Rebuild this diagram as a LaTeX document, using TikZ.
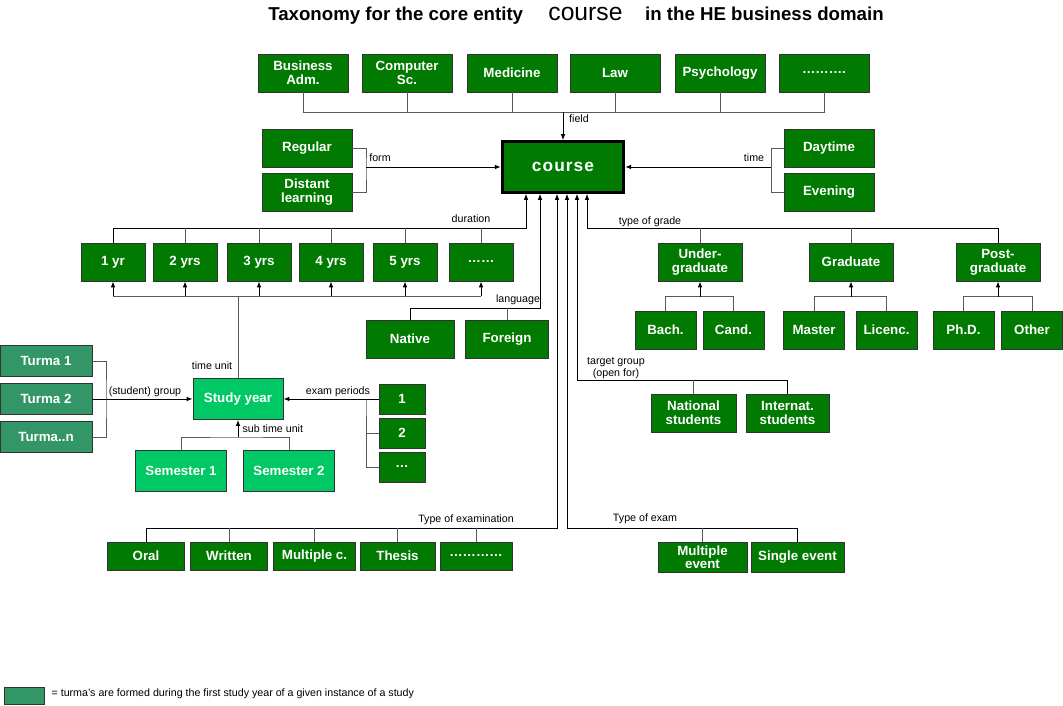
\documentclass[tikz,border=0pt]{standalone}
\usepackage{fontspec}
\setmainfont{Liberation Sans}
\usetikzlibrary{arrows.meta,calc}
\definecolor{dkgreen}{RGB}{0,122,0}
\definecolor{tgreen}{RGB}{51,150,102}
\definecolor{lgreen}{RGB}{0,200,100}
\tikzset{
  box/.style={draw=black!80, fill=dkgreen, text=white, align=center,
    font=\bfseries\fontsize{10}{10.75}\selectfont, inner sep=1pt,
    minimum height=28.5pt, line width=0.6pt},
  lbl/.style={font=\fontsize{8}{9}\selectfont, inner sep=1pt},
  ln/.style={draw=black!65, line width=0.7pt},
  arr/.style={draw=black, line width=0.7pt, -{Latex[length=4.5pt,width=3.5pt]}}
}
\begin{document}
\begin{tikzpicture}[x=0.75pt,y=-0.75pt]
  \useasboundingbox (0,0) rectangle (1063,706);
  % title
  \node (title) at (576,16) {{\bfseries\fontsize{14}{16}\selectfont Taxonomy for the core entity}\hspace{19pt}{\fontsize{18.5}{20}\selectfont course}\hspace{17pt}{\bfseries\fontsize{14}{16}\selectfont in the HE business domain}};
  % core entity
  \node[box, draw=black, line width=2.25pt, minimum width=91pt, minimum height=38pt,
    font=\bfseries\fontsize{13}{14}\selectfont\addfontfeatures{LetterSpace=6}] (course) at (563,167) {course};
  % field
  \foreach \x/\nm/\texn in {303/f1/{Business\\Adm.},407/f2/{Computer\\Sc.},
    512/f3/Medicine,615/f4/Law,720/f5/Psychology,824/f6/……….}
    \node[box, minimum width=67.5pt] (\nm) at (\x,73) {\texn};
  \coordinate (fld) at (563,112);
  \draw[ln] (f1.south) -- (f1.south |- fld) -- (f6.south |- fld) -- (f6.south);
  \foreach \i in {2,...,5} \draw[ln] (f\i.south) -- (f\i.south |- fld);
  \draw[arr] (fld) -- (course.north);
  \node[lbl] (lfld) at (579,119) {field};
  % form
  \node[box, minimum width=67.5pt] (reg) at (307,148) {Regular};
  \node[box, minimum width=67.5pt] (dist) at (307,192) {Distant\\learning};
  \coordinate (frm) at (366,167);
  \draw[ln] (reg.east) -| (frm) |- (dist.east);
  \draw[arr] (frm) -- (course.west);
  \node[lbl] (lfrm) at (380,158) {form};
  % time
  \node[box, minimum width=67.5pt] (day) at (829,148) {Daytime};
  \node[box, minimum width=67.5pt] (eve) at (829,192) {Evening};
  \coordinate (tim) at (771,167);
  \draw[ln] (day.west) -| (tim) |- (eve.west);
  \draw[arr] (tim) -- (course.east);
  \node[lbl] (ltim) at (754,158) {time};
  % duration
  \foreach \x/\nm/\texn in {113/y1/1 yr,185/y2/2 yrs,259/y3/3 yrs,
    331/y4/4 yrs,405/y5/5 yrs,481/y6/……}
    \node[box, minimum width=48pt] (\nm) at (\x,262) {\texn};
  \coordinate (dur) at (526,228);
  \draw[arr] (y1.north) |- (dur) -- (dur |- course.south);
  \foreach \i in {2,...,6} \draw[ln] (y\i.north) -- (y\i.north |- dur);
  \node[lbl] (ldur) at (471,219) {duration};
  % study year
  \node[box, fill=lgreen, minimum width=67.5pt, minimum height=30.75pt] (study) at (238,399) {Study year};
  \coordinate (tu) at (238,296);
  \draw[ln] (y1.south |- tu) -- (y6.south |- tu);
  \foreach \i in {1,...,6} \draw[arr] (y\i.south |- tu) -- (y\i.south);
  \draw[ln] (study.north) -- (tu);
  \node[lbl] (ltu) at (212,366) {time unit};
  % language
  \node[box, minimum width=66pt] (nat) at (410,339) {Native};
  \node[box, minimum width=62pt] (frgn) at (507,339) {Foreign};
  \coordinate (lng) at (540,308);
  \draw[arr] (nat.north) |- (lng) -- (lng |- course.south);
  \draw[ln] (frgn.north) -- (frgn.north |- lng);
  \node[lbl] (llng) at (518,300) {language};
  % student groups
  \foreach \y/\nm/\texn in {361/t1/Turma 1,399/t2/Turma 2,437/t3/Turma..n}
    \node[box, fill=tgreen, minimum width=69pt, minimum height=23.25pt] (\nm) at (46,\y) {\texn};
  \coordinate (grp) at (106,399);
  \draw[ln] (t1.east) -| (grp) |- (t3.east);
  \draw[arr] (t2.east) -- (study.west);
  \node[lbl] (lgrp) at (145,392) {(student) group};
  % exam periods
  \foreach \y/\nm/\texn in {399/p1/1,433/p2/2,467/p3/…}
    \node[box, minimum width=34.5pt, minimum height=22.5pt] (\nm) at (402,\y) {\texn};
  \coordinate (exp) at (366,399);
  \draw[ln] (p2.west) -| (exp) |- (p3.west);
  \draw[arr] (p1.west) -- (study.east);
  \node[lbl] (lexp) at (338,392) {exam periods};
  % semesters
  \node[box, fill=lgreen, minimum width=68.25pt, minimum height=30.75pt] (s1) at (181,471) {Semester 1};
  \node[box, fill=lgreen, minimum width=68.25pt, minimum height=30.75pt] (s2) at (289,471) {Semester 2};
  \coordinate (stu) at (238,437);
  \draw[ln] (s1.north) |- (stu) -| (s2.north);
  \draw[arr] (stu) -- (study.south);
  \node[lbl, anchor=west] (lstu) at (241,429) {sub time unit};
  % type of grade
  \foreach \x/\nm/\texn in {700/ug/{Under-\\graduate},851/gr/Graduate,998/pg/{Post-\\graduate}}
    \node[box, minimum width=63pt] (\nm) at (\x,262) {\texn};
  \coordinate (grd) at (587,228);
  \draw[arr] (pg.north) |- (grd) -- (grd |- course.south);
  \draw[ln] (ug.north) -- (ug.north |- grd);
  \draw[ln] (gr.north) -- (gr.north |- grd);
  \node[lbl] (lgrd) at (650,222) {type of grade};
  \foreach \x/\nm/\texn in {665.5/ba/Bach.,733.5/ca/Cand.,814/ma/Master,
    886.5/li/Licenc.,963.5/ph/Ph.D.,1032/ot/Other}
    \node[box, minimum width=45.75pt] (\nm) at (\x,330) {\texn};
  \foreach \a/\b/\p in {ba/ca/ug,ma/li/gr,ph/ot/pg}{
    \draw[ln] (\a.north) -- ([yshift=10.5pt]\a.north) -| (\b.north);
    \draw[arr] ([yshift=-12pt]\p.south) -- (\p.south);
  }
  % target group
  \node[box, minimum width=63.75pt] (nst) at (693.5,413) {National\\students};
  \node[box, minimum width=62.25pt] (ist) at (787.5,413) {Internat.\\students};
  \coordinate (tgt) at (577,380);
  \draw[arr] (ist.north) |- (tgt) -- (tgt |- course.south);
  \draw[ln] (nst.north) -- (nst.north |- tgt);
  \node[lbl, align=center, font=\fontsize{8}{9.5}\selectfont] (ltgt) at (616,368) {target group\\(open for)};
  % type of examination
  \foreach \x/\w/\nm/\texn in {146/57.75pt/e1/Oral,229/57.75pt/e2/Written,
    314.5/61.5pt/e3/Multiple c.,397.5/56.25pt/e4/Thesis,476/54pt/e5/…………}
    \node[box, minimum width=\w, minimum height=21pt] (\nm) at (\x,556) {\texn};
  \coordinate (exm) at (557,528);
  \draw[arr] (e1.north) |- (exm) -- (exm |- course.south);
  \foreach \i in {2,...,5} \draw[ln] (e\i.north) -- (e\i.north |- exm);
  \node[lbl] (lexm) at (466,520) {Type of examination};
  % type of exam
  \node[box, minimum width=66.75pt, minimum height=22.5pt, font=\bfseries\fontsize{10}{10}\selectfont] (me) at (702.5,557) {Multiple\\event};
  \node[box, minimum width=69.75pt, minimum height=22.5pt] (se) at (797.5,557) {Single event};
  \coordinate (exa) at (567,528);
  \draw[arr] (se.north) |- (exa) -- (exa |- course.south);
  \draw[ln] (me.north) -- (me.north |- exa);
  \node[lbl] (lexa) at (645,519) {Type of exam};
  % legend
  \node[box, fill=tgreen, minimum width=30pt, minimum height=12.75pt] (leg) at (24,695.5) {};
  \node[lbl, anchor=west, font=\fontsize{8}{9}\selectfont] (legt) at (50,694) {= turma's are formed during the first study year of a given instance of a study};
\end{tikzpicture}
\end{document}
